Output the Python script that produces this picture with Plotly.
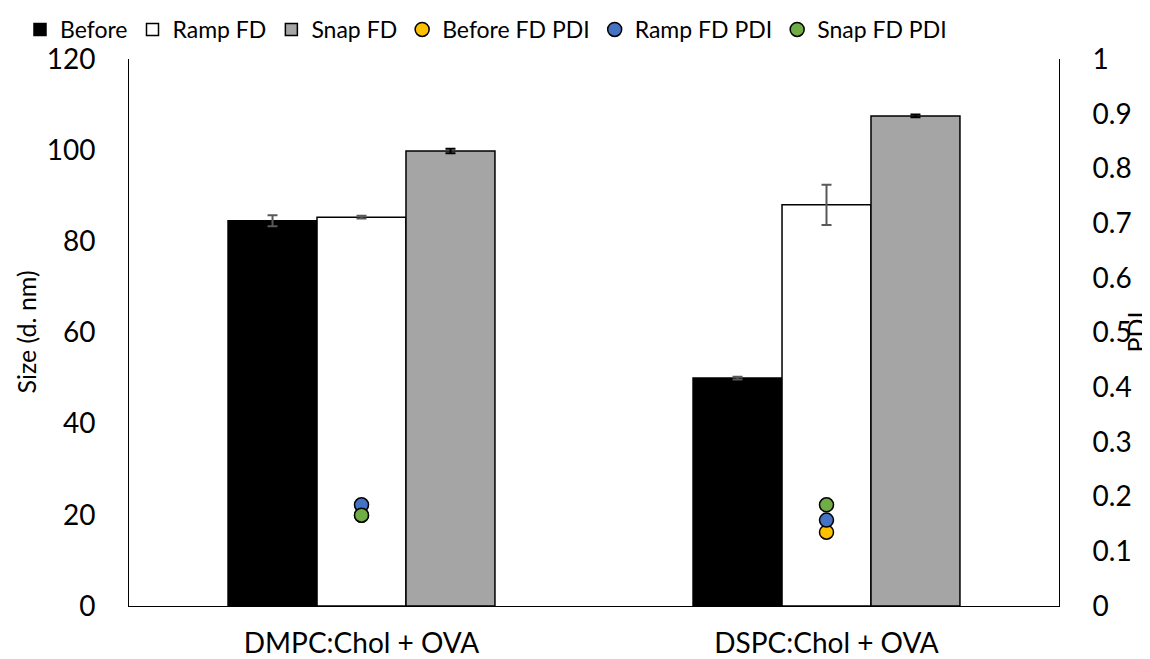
import plotly.graph_objects as go

categories = ["DMPC:Chol + OVA", "DSPC:Chol + OVA"]
before = [84.5, 50.0]
before_err = [1.2, 0.3]
ramp = [85.3, 88.0]
ramp_err = [0.3, 4.4]
snap = [99.8, 107.5]
snap_err = [0.5, 0.3]
before_pdi = [0.166, 0.135]
ramp_pdi = [0.185, 0.157]
snap_pdi = [0.166, 0.185]

FONT = "Lato"
fig = go.Figure()

def bar(name, y, err, fill, errc):
    fig.add_trace(go.Bar(
        name=name, x=categories, y=y,
        marker=dict(color=fill, line=dict(color="black", width=1.5)),
        error_y=dict(type="data", array=err, color=errc, thickness=2, width=5),
    ))

bar("Before", before, before_err, "black", "#595959")
bar("Ramp FD", ramp, ramp_err, "white", "#595959")
bar("Snap FD", snap, snap_err, "#A5A5A5", "black")

def dots(name, y, c):
    fig.add_trace(go.Scatter(
        name=name, x=categories, y=y, yaxis="y2", mode="markers",
        marker=dict(color=c, size=14, line=dict(color="black", width=1.5)),
    ))

dots("Before FD PDI", before_pdi, "#FFC000")
dots("Ramp FD PDI", ramp_pdi, "#4472C4")
dots("Snap FD PDI", snap_pdi, "#70AD47")

# page body has an 8px default margin: compensate
W, H = 1142, 651
fig.update_layout(
    width=W, height=H,
    margin=dict(l=121, r=91, t=51, b=53, autoexpand=False),
    paper_bgcolor="white", plot_bgcolor="white",
    font=dict(family=FONT, size=28, color="black"),
    barmode="group", bargap=0.426, bargroupgap=0,
    showlegend=True,
    legend=dict(orientation="h", xref="container", yref="container",
                x=(20 - 8) / W, y=1.0, xanchor="left", yanchor="top",
                font=dict(size=23, family=FONT), itemwidth=30,
                tracegroupgap=0, bgcolor="rgba(0,0,0,0)"),
    xaxis=dict(showline=True, linecolor="black", linewidth=1, ticks="outside",
               ticklen=12, tickcolor="rgba(0,0,0,0)", automargin=False,
               tickfont=dict(size=28), showgrid=False),
    yaxis=dict(range=[0, 120], dtick=20, showline=True, linecolor="black",
               linewidth=1, ticks="outside", ticklen=27,
               tickcolor="rgba(0,0,0,0)", showgrid=False, zeroline=False,
               automargin=False, tickfont=dict(size=28)),
    yaxis2=dict(range=[0, 1], dtick=0.1, overlaying="y", side="right",
                showline=True, linecolor="black", linewidth=1,
                ticks="outside", ticklen=27, tickcolor="rgba(0,0,0,0)",
                showgrid=False, zeroline=False, automargin=False,
                tickfont=dict(size=28)),
    annotations=[
        dict(text="Size (d. nm)", xref="paper", yref="paper",
             x=(25 - 129) / 930, y=0.5,
             xanchor="center", yanchor="middle", textangle=-90, showarrow=False,
             font=dict(size=25, family=FONT)),
        dict(text="PDI", xref="paper", yref="paper",
             x=(1135 - 129) / 930, y=0.5,
             xanchor="center", yanchor="middle", textangle=-90, showarrow=False,
             font=dict(size=25, family=FONT)),
    ],
)

fig.write_html("out.html")
